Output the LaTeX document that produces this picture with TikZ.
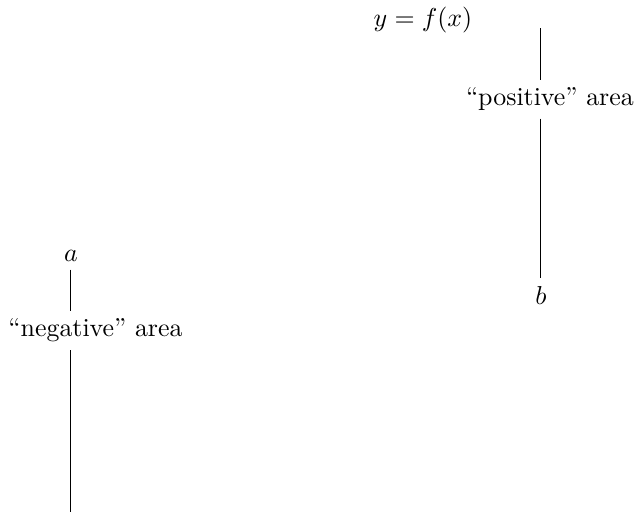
\documentclass[tikz,border=0pt]{standalone}
\usepackage{amsmath}
\usepackage{tikz}
\usetikzlibrary{positioning}
\begin{document}
\begin{tikzpicture}
\tikzset{
  tag/.style={inner sep=2.9pt},
  bound/.style={line width=0.4pt, draw=black}
}
\useasboundingbox (0,0) rectangle (8.63,6.975);

\node[tag] (fx) at (5.74,6.70) {$y=f(x)$};
\coordinate (top) at (7.34,6.595);
\node[tag] (pos) at (7.462,5.63) {``positive'' area};
\node[tag] (b) at (7.34,2.97) {$b$};

\node[tag] (a) at (0.963,3.50) {$a$};
\node[tag] (neg) at (1.296,2.49) {``negative'' area};
\coordinate (bottom) at (0.963,0.03);

\draw[bound] (top) -- (top |- pos.north);
\draw[bound] (b |- pos.south) -- (b);
\draw[bound] (a) -- (a |- neg.north);
\draw[bound] (bottom |- neg.south) -- (bottom);
\end{tikzpicture}
\end{document}
